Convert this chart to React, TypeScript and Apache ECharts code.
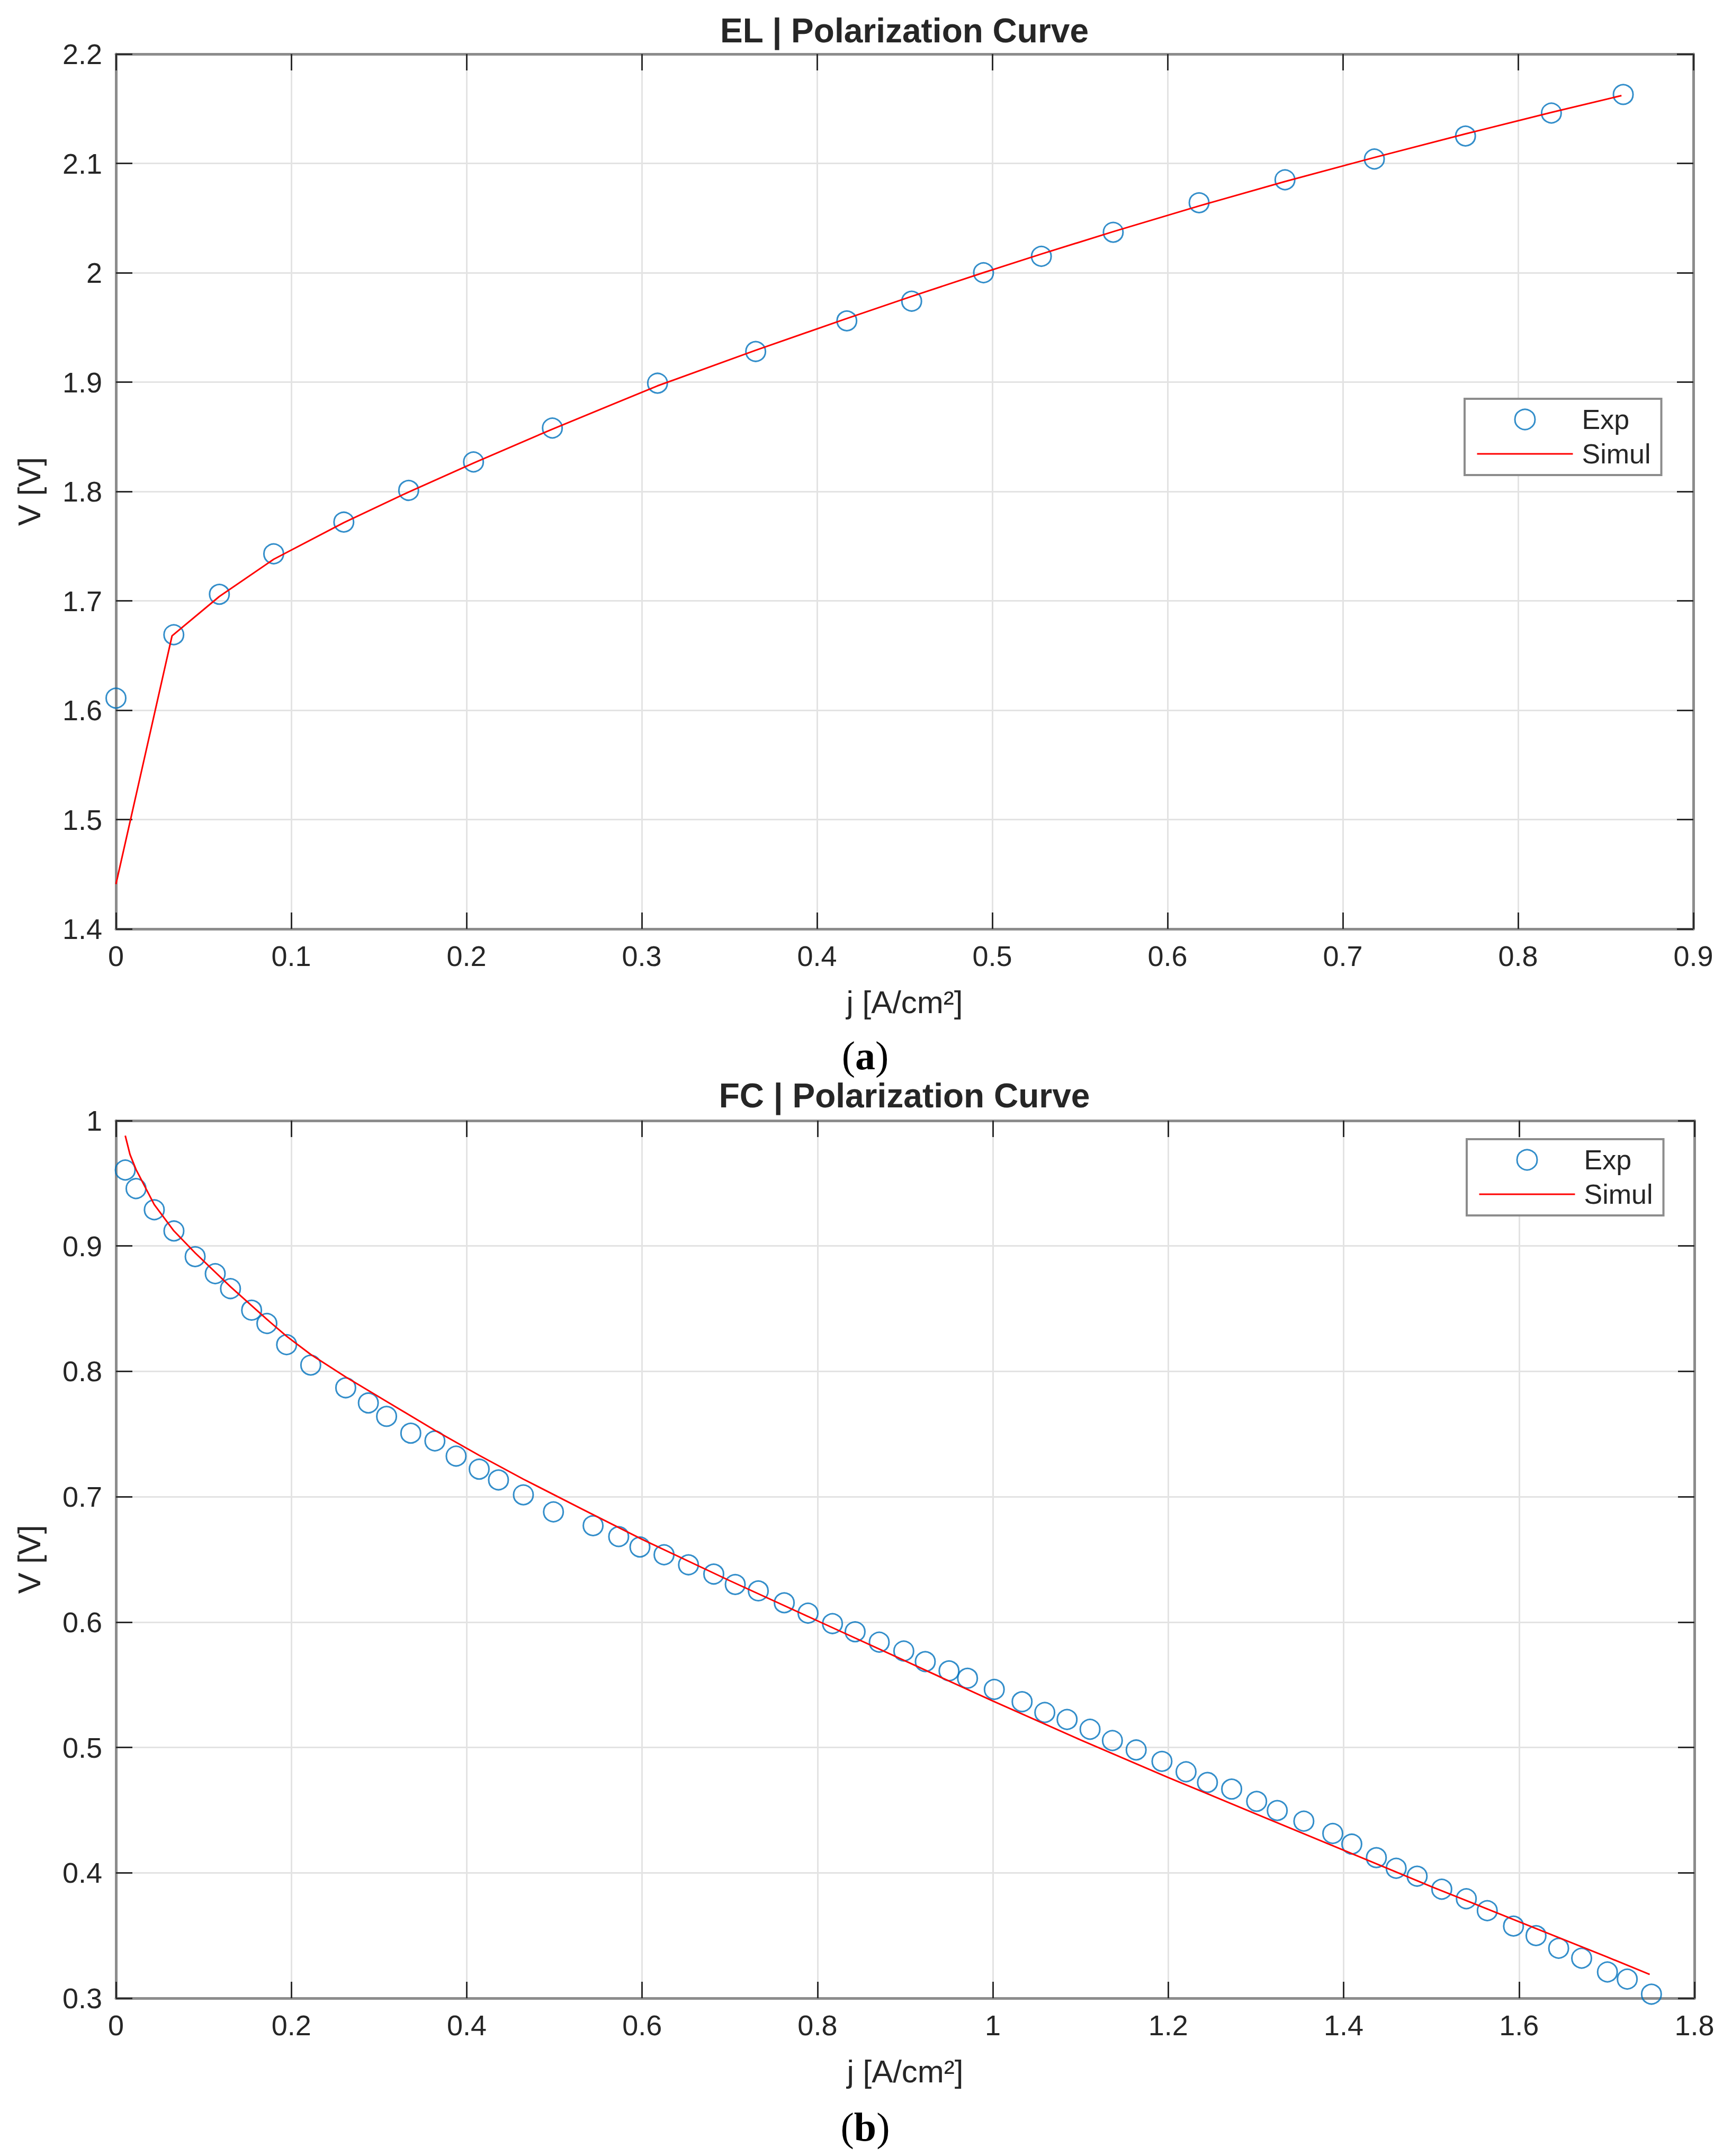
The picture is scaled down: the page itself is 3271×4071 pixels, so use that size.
import React, { useEffect, useRef } from "react";
import * as echarts from "echarts";

// ---------- EL (electrolyser) polarization data ----------
const elExpJ = [0, 0.033, 0.059, 0.09, 0.13, 0.167, 0.204, 0.249, 0.309, 0.365, 0.417, 0.454, 0.495, 0.528, 0.569, 0.618, 0.667, 0.718, 0.77, 0.819, 0.86];
const elExpV = [1.611, 1.669, 1.706, 1.743, 1.772, 1.801, 1.827, 1.858, 1.899, 1.928, 1.956, 1.974, 2.0, 2.015, 2.037, 2.064, 2.085, 2.104, 2.125, 2.146, 2.163];
const elSimJ = [0, 0.032, 0.059, 0.09, 0.13, 0.167, 0.204, 0.249, 0.309, 0.365, 0.417, 0.454, 0.495, 0.528, 0.569, 0.618, 0.667, 0.718, 0.77, 0.819, 0.859];
const elSimV = [1.441, 1.668, 1.704, 1.738, 1.7715, 1.7995, 1.826, 1.857, 1.8966, 1.9291, 1.9582, 1.9784, 2.0001, 2.0171, 2.0376, 2.0611, 2.0834, 2.1054, 2.127, 2.1466, 2.162];

// ---------- FC (fuel cell) polarization data ----------
const fcExpJ = [0.0106, 0.0229, 0.0437, 0.0661, 0.0903, 0.1132, 0.1306, 0.1547, 0.1721, 0.1946, 0.2221, 0.262, 0.2878, 0.3086, 0.3362, 0.3637, 0.3879, 0.4142, 0.4362, 0.4646, 0.4989, 0.5441, 0.5733, 0.5975, 0.625, 0.6529, 0.6817, 0.7062, 0.7325, 0.7621, 0.7892, 0.8171, 0.8429, 0.8704, 0.8984, 0.9229, 0.95, 0.9711, 1.0016, 1.0333, 1.0592, 1.0846, 1.1108, 1.1363, 1.1634, 1.1928, 1.2203, 1.2447, 1.2723, 1.3008, 1.3243, 1.3546, 1.3876, 1.4093, 1.4373, 1.4599, 1.4838, 1.5119, 1.5399, 1.5638, 1.5937, 1.6194, 1.6452, 1.6714, 1.7008, 1.7234, 1.751];
const fcExpV = [0.9606, 0.9458, 0.9289, 0.912, 0.8915, 0.8779, 0.866, 0.8488, 0.8382, 0.8213, 0.805, 0.7869, 0.7748, 0.7641, 0.7507, 0.7445, 0.7324, 0.722, 0.7134, 0.7015, 0.6879, 0.6769, 0.6682, 0.6599, 0.6537, 0.6457, 0.6383, 0.63, 0.6249, 0.6154, 0.6071, 0.5988, 0.5923, 0.584, 0.5769, 0.5685, 0.5611, 0.5552, 0.5463, 0.5365, 0.5279, 0.5223, 0.5145, 0.5055, 0.498, 0.4889, 0.4806, 0.4721, 0.4668, 0.457, 0.4497, 0.4412, 0.4314, 0.4229, 0.4121, 0.4036, 0.3973, 0.3869, 0.3793, 0.3698, 0.3575, 0.3499, 0.3398, 0.3319, 0.3209, 0.3152, 0.3032];
const fcSimJ = [0.0106, 0.016, 0.0229, 0.0437, 0.0661, 0.0903, 0.1306, 0.1721, 0.1946, 0.2221, 0.262, 0.3086, 0.3637, 0.4142, 0.4646, 0.532, 0.6, 0.7, 0.8, 0.9, 1.0, 1.1, 1.2, 1.3, 1.4, 1.5, 1.6, 1.7, 1.749];
const fcSimV = [0.988, 0.973, 0.961, 0.933, 0.912, 0.8945, 0.8675, 0.8415, 0.828, 0.8135, 0.7955, 0.776, 0.753, 0.733, 0.714, 0.69, 0.666, 0.633, 0.601, 0.569, 0.537, 0.506, 0.476, 0.447, 0.418, 0.389, 0.361, 0.333, 0.319];

// ---------- axis ticks ----------
const elX = { min: 0, max: 0.9, interval: 0.1 };
const elY = { min: 1.4, max: 2.2, interval: 0.1 };
const fcX = { min: 0, max: 1.8, interval: 0.2 };
const fcY = { min: 0.3, max: 1, interval: 0.1 };

const titles = ["EL | Polarization Curve", "FC | Polarization Curve"];
const captions = ["a", "b"];
const xName = "j [A/cm²]";
const yName = "V [V]";

const FONT = '"Liberation Sans", Arial, Helvetica, sans-serif';
const SERIF = '"Liberation Serif", "Times New Roman", serif';
const TEXT = "#262626";
const AXIS = "#8c8c8c";
const TICK = "#2b2b2b";
const GRIDC = "#e3e3e3";
const BLUE = "#0072BD";
const RED = "#FF0000";

const zip = (a: number[], b: number[]) => a.map((x, i) => [x, b[i]]);

function xAxes(gridIndex: number, r: { min: number; max: number; interval: number }) {
  const common = {
    type: "value",
    gridIndex,
    min: r.min,
    max: r.max,
    interval: r.interval,
    axisLine: { show: true, onZero: false, lineStyle: { color: AXIS, width: 5 } },
    axisTick: { show: true, inside: true, length: 31, lineStyle: { color: TICK, width: 3 } },
  };
  return [
    {
      ...common,
      position: "bottom",
      axisLabel: { show: true, margin: 24, fontSize: 54, color: TEXT, fontFamily: FONT },
      splitLine: { show: true, lineStyle: { color: GRIDC, width: 3 } },
      name: xName,
      nameLocation: "middle",
      nameGap: 108,
      nameTextStyle: { fontSize: 60, color: TEXT, fontFamily: FONT },
    },
    {
      ...common,
      position: "top",
      axisLabel: { show: false },
      splitLine: { show: false },
    },
  ];
}

function yAxes(gridIndex: number, r: { min: number; max: number; interval: number }) {
  const common = {
    type: "value",
    gridIndex,
    min: r.min,
    max: r.max,
    interval: r.interval,
    axisLine: { show: true, onZero: false, lineStyle: { color: AXIS, width: 5 } },
    axisTick: { show: true, inside: true, length: 31, lineStyle: { color: TICK, width: 3 } },
  };
  return [
    {
      ...common,
      position: "left",
      axisLabel: { show: true, margin: 26, fontSize: 54, color: TEXT, fontFamily: FONT },
      splitLine: { show: true, lineStyle: { color: GRIDC, width: 3 } },
      name: yName,
      nameLocation: "middle",
      nameRotate: 90,
      nameGap: 134,
      nameTextStyle: { fontSize: 60, color: TEXT, fontFamily: FONT },
    },
    {
      ...common,
      position: "right",
      axisLabel: { show: false },
      splitLine: { show: false },
    },
  ];
}

function legend(left: number, top: number) {
  return {
    orient: "vertical",
    left,
    top,
    padding: [13, 20, 14, 22],
    itemWidth: 181,
    itemHeight: 38,
    itemGap: 13,
    borderColor: AXIS,
    borderWidth: 4,
    borderRadius: 0,
    backgroundColor: "#ffffff",
    selectedMode: false,
    data: ["Exp", { name: "Simul", itemStyle: { opacity: 0 } }],
    itemStyle: { borderWidth: 3 },
    lineStyle: { width: 3 },
    textStyle: { fontSize: 52, lineHeight: 50, color: TEXT, fontFamily: FONT, padding: [0, 0, 0, 12] },
  };
}

function caption(letter: string, y: number) {
  return {
    type: "text",
    x: 1634,
    y,
    style: {
      text: `{p|(}{b|${letter}}{p|)}`,
      rich: {
        p: { fontSize: 76, fontFamily: SERIF, fill: "#000" },
        b: { fontSize: 76, fontFamily: SERIF, fontWeight: "bold", fill: "#000" },
      },
      align: "center",
      verticalAlign: "middle",
      fill: "#000",
    },
  };
}

function title(text: string, y: number) {
  return {
    type: "text",
    x: 1708,
    y,
    style: {
      text,
      fontSize: 64,
      fontWeight: "bold",
      fontFamily: FONT,
      fill: TEXT,
      align: "center",
      verticalAlign: "middle",
    },
  };
}

function scatter(name: string, xi: number, yi: number, data: number[][]) {
  return {
    type: "scatter",
    name,
    xAxisIndex: xi,
    yAxisIndex: yi,
    data,
    symbol: "circle",
    symbolSize: 37,
    itemStyle: { color: "rgba(0,0,0,0)", borderColor: BLUE, borderWidth: 3 },
    z: 2,
  };
}

function line(name: string, xi: number, yi: number, data: number[][]) {
  return {
    type: "line",
    name,
    xAxisIndex: xi,
    yAxisIndex: yi,
    data,
    symbol: "none",
    showSymbol: false,
    smooth: false,
    lineStyle: { color: RED, width: 3 },
    itemStyle: { color: RED },
    z: 3,
  };
}

export default function App() {
  const ref = useRef<HTMLDivElement>(null);

  useEffect(() => {
    if (!ref.current) return;
    const chart = echarts.init(ref.current, undefined, { renderer: "svg" });
    const option = {
      animation: false,
      backgroundColor: "#ffffff",
      grid: [
        { left: 219, top: 102, width: 2979, height: 1652, containLabel: false },
        { left: 219, top: 2116, width: 2981, height: 1657, containLabel: false },
      ],
      xAxis: [...xAxes(0, elX), ...xAxes(1, fcX)],
      yAxis: [...yAxes(0, elY), ...yAxes(1, fcY)],
      legend: [legend(2766, 753), legend(2770, 2151)],
      graphic: [
        title(titles[0], 58),
        title(titles[1], 2069),
        caption(captions[0], 1993),
        caption(captions[1], 4016),
      ],
      series: [
        scatter("Exp", 0, 0, zip(elExpJ, elExpV)),
        line("Simul", 0, 0, zip(elSimJ, elSimV)),
        scatter("Exp", 2, 2, zip(fcExpJ, fcExpV)),
        line("Simul", 2, 2, zip(fcSimJ, fcSimV)),
      ],
    };
    chart.setOption(option as any);
    return () => {
      chart.dispose();
    };
  }, []);

  return (
    <div
      ref={ref}
      style={{ position: "absolute", left: 0, top: 0, width: 3271, height: 4071, background: "#ffffff" }}
    />
  );
}
